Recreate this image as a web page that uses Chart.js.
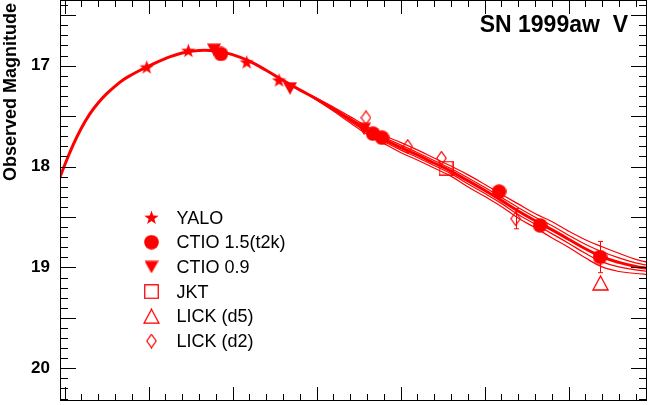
<!DOCTYPE html>
<html>
<head>
<meta charset="utf-8">
<script src="https://cdn.jsdelivr.net/npm/chart.js@4.4.1/dist/chart.umd.min.js"></script>
<style>
html, body { margin: 0; padding: 0; background: #fff; }
#wrap { width: 648px; height: 405px; }
</style>
</head>
<body>
<div id="wrap"><canvas id="lc" width="648" height="405"></canvas></div>
<script>
// light curve template (days from an arbitrary origin, V mag)
var curveDays = [-0.6, 0, 1, 2, 3, 4, 5, 6, 7, 8, 9, 10, 12, 14, 16, 18, 20, 22, 24, 26, 28, 30, 32, 34, 36, 38, 40, 42, 44, 46, 48, 50, 52, 54, 56, 58, 60, 62, 64, 66, 68, 69.5];
var curveMag = [18.12, 17.99, 17.79, 17.62, 17.48, 17.37, 17.28, 17.205, 17.14, 17.09, 17.045, 17.005, 16.93, 16.875, 16.85, 16.855, 16.89, 16.955, 17.045, 17.145, 17.24, 17.33, 17.43, 17.535, 17.64, 17.73, 17.81, 17.885, 17.965, 18.045, 18.14, 18.235, 18.335, 18.44, 18.535, 18.625, 18.72, 18.815, 18.895, 18.95, 18.99, 19.01];

// the thin template curves fanning out at late times
var bandDays = [28, 30, 32, 34, 36, 38, 40, 42, 44, 46, 48, 50, 52, 54, 56, 58, 60, 62, 64, 66, 68, 69.5];
var bandA = [17.24, 17.32, 17.41, 17.505, 17.60, 17.69, 17.76, 17.835, 17.915, 17.995, 18.08, 18.175, 18.275, 18.37, 18.465, 18.545, 18.64, 18.725, 18.795, 18.86, 18.92, 18.95];
var bandB = [17.24, 17.325, 17.42, 17.52, 17.62, 17.71, 17.785, 17.86, 17.94, 18.02, 18.11, 18.205, 18.305, 18.405, 18.50, 18.585, 18.68, 18.77, 18.845, 18.905, 18.955, 18.98];
var bandC = [17.24, 17.335, 17.44, 17.55, 17.66, 17.75, 17.835, 17.91, 17.99, 18.07, 18.17, 18.265, 18.365, 18.475, 18.57, 18.665, 18.76, 18.86, 18.945, 18.995, 19.025, 19.04];
var bandD = [17.24, 17.34, 17.45, 17.565, 17.68, 17.77, 17.86, 17.935, 18.015, 18.095, 18.20, 18.295, 18.395, 18.51, 18.605, 18.705, 18.80, 18.905, 18.995, 19.04, 19.06, 19.07];

// photometry
var yaloDay = [9.79, 14.74, 21.69, 25.54];
var yaloMag = [17.015, 16.851, 16.965, 17.144];
var ctio15Day = [18.63, 36.73, 37.80, 51.73, 56.61, 63.75];
var ctio15Mag = [16.884, 17.674, 17.714, 18.249, 18.583, 18.897];
var ctio15Err = [0, 0, 0, 0, 0, 0.155];
var ctio09Day = [17.80, 26.85, 35.65];
var ctio09Mag = [16.841, 17.223, 17.625];
var jktDay = [45.42];
var jktMag = [18.016];
var lickD5Day = [63.81];
var lickD5Mag = [19.154];
var lickD2Day = [35.89, 40.86, 44.88, 53.71];
var lickD2Mag = [17.516, 17.80, 17.917, 18.517];
var lickD2Err = [0, 0, 0, 0.10];

var yTickLabels = [17, 18, 19, 20];

var RED = '#ff0000';
var FONT = '"Liberation Sans", Helvetica, Arial, sans-serif';

function pts(xs, ys) {
  return xs.map(function (x, i) { return { x: x, y: ys[i] }; });
}

function marker(kind) {
  var c = document.createElement('canvas');
  var sz = { star: [15, 15], circle: [15, 15], down: [14, 13], square: [15, 15], up: [17, 16], diamond: [11, 15] }[kind];
  c.width = sz[0]; c.height = sz[1];
  var g = c.getContext('2d');
  g.fillStyle = RED; g.strokeStyle = RED; g.lineWidth = 1.3;
  g.beginPath();
  if (kind === 'star') {
    for (var i = 0; i < 10; i++) {
      var r = i % 2 === 0 ? 7.5 : 3.0;
      var a = -Math.PI / 2 + i * Math.PI / 5;
      var px = 7.5 + r * Math.cos(a), py = 8 + r * Math.sin(a);
      if (i === 0) g.moveTo(px, py); else g.lineTo(px, py);
    }
    g.closePath(); g.fill();
  } else if (kind === 'circle') {
    g.arc(7.5, 7.5, 7.3, 0, Math.PI * 2); g.fill();
  } else if (kind === 'down') {
    g.moveTo(0, 0.5); g.lineTo(14, 0.5); g.lineTo(7, 13); g.closePath(); g.fill();
  } else if (kind === 'square') {
    g.strokeRect(0.75, 0.75, 13.5, 13.5);
  } else if (kind === 'up') {
    g.moveTo(8.5, 1); g.lineTo(16, 15); g.lineTo(1, 15); g.closePath(); g.stroke();
  } else if (kind === 'diamond') {
    g.lineWidth = 1.2;
    g.moveTo(5.5, 0.8); g.lineTo(10.2, 7.5); g.lineTo(5.5, 14.2); g.lineTo(0.8, 7.5); g.closePath(); g.stroke();
  }
  return c;
}

function markerSet(label, xs, ys, kind) {
  return {
    label: label,
    data: pts(xs, ys),
    pointStyle: marker(kind),
    pointRadius: 7,
    borderColor: RED,
    backgroundColor: RED,
    order: 0
  };
}

function curveSet(xs, ys, w) {
  return {
    label: '',
    data: pts(xs, ys),
    showLine: true,
    pointRadius: 0,
    borderColor: RED,
    borderWidth: w,
    tension: 0.4,
    order: 1,
    isCurve: true
  };
}

var datasets = [
  markerSet('YALO', yaloDay, yaloMag, 'star'),
  markerSet('CTIO 1.5(t2k)', ctio15Day, ctio15Mag, 'circle'),
  markerSet('CTIO 0.9', ctio09Day, ctio09Mag, 'down'),
  markerSet('JKT', jktDay, jktMag, 'square'),
  markerSet('LICK (d5)', lickD5Day, lickD5Mag, 'up'),
  markerSet('LICK (d2)', lickD2Day, lickD2Mag, 'diamond'),
  curveSet(curveDays, curveMag, 3),
  curveSet(bandDays, bandA, 1.2),
  curveSet(bandDays, bandB, 1.2),
  curveSet(bandDays, bandC, 1.2),
  curveSet(bandDays, bandD, 1.2)
];

var errors = [
  { days: ctio15Day, mags: ctio15Mag, err: ctio15Err },
  { days: lickD2Day, mags: lickD2Mag, err: lickD2Err }
];

var framePlugin = {
  id: 'frame',
  beforeDatasetsDraw: function (chart) {
    var ctx = chart.ctx, xs = chart.scales.x, ys = chart.scales.y;
    ctx.save();
    ctx.strokeStyle = RED; ctx.lineWidth = 1;
    ctx.beginPath();
    errors.forEach(function (e) {
      e.days.forEach(function (d, i) {
        if (!e.err[i]) return;
        var px = Math.round(xs.getPixelForValue(d)) + 0.5;
        var y1 = ys.getPixelForValue(e.mags[i] - e.err[i]);
        var y2 = ys.getPixelForValue(e.mags[i] + e.err[i]);
        ctx.moveTo(px, y1); ctx.lineTo(px, y2);
        ctx.moveTo(px - 2.5, y1); ctx.lineTo(px + 2.5, y1);
        ctx.moveTo(px - 2.5, y2); ctx.lineTo(px + 2.5, y2);
      });
    });
    ctx.stroke();
    ctx.restore();
  },
  afterDraw: function (chart) {
    var ctx = chart.ctx, a = chart.chartArea, xs = chart.scales.x, ys = chart.scales.y;
    ctx.save();
    ctx.strokeStyle = '#000'; ctx.lineWidth = 1;
    ctx.strokeRect(a.left + 0.5, a.top + 0.5, a.right - a.left - 1, a.bottom - a.top - 1);
    ctx.beginPath();
    for (var k = 164; k <= 203; k++) {
      var py = Math.round(ys.getPixelForValue(k / 10)) + 0.5;
      var len = k % 5 === 0 ? 16 : 8;
      ctx.moveTo(a.left, py); ctx.lineTo(a.left + len, py);
      ctx.moveTo(a.right, py); ctx.lineTo(a.right - len, py);
    }
    for (var d = 0; d <= 68; d += 2) {
      var px = Math.round(xs.getPixelForValue(d)) + 0.5;
      var l2 = d % 10 === 0 ? 14 : 7;
      ctx.moveTo(px, a.bottom); ctx.lineTo(px, a.bottom - l2);
      ctx.moveTo(px, a.top); ctx.lineTo(px, a.top + l2);
    }
    ctx.stroke();

    // y axis title
    ctx.fillStyle = '#000';
    ctx.font = 'bold 18px ' + FONT;
    ctx.save();
    ctx.translate(15.5, 3);
    ctx.rotate(-Math.PI / 2);
    ctx.textAlign = 'right';
    ctx.textBaseline = 'alphabetic';
    ctx.fillText('Observed Magnitude', 0, 0);
    ctx.restore();

    // plot label
    ctx.font = 'bold 23px ' + FONT;
    ctx.textAlign = 'right';
    ctx.fillText('SN 1999aw  V', 628, 32);

    // legend
    ctx.font = '18px ' + FONT;
    ctx.textAlign = 'left';
    var row = 0;
    chart.data.datasets.forEach(function (ds) {
      if (ds.isCurve) return;
      var cy = 217.5 + row * 24.7;
      var img = ds.pointStyle;
      ctx.drawImage(img, 151.5 - img.width / 2, cy - img.height / 2);
      ctx.fillText(ds.label, 176.5, cy + 6);
      row++;
    });
    ctx.restore();
  }
};

function noPad(s) {
  s.paddingTop = 0; s.paddingBottom = 0; s.paddingLeft = 0; s.paddingRight = 0;
}

new Chart(document.getElementById('lc'), {
  type: 'scatter',
  data: { datasets: datasets },
  options: {
    responsive: false,
    animation: false,
    events: [],
    layout: { autoPadding: false, padding: { left: 0, right: 1, top: 0, bottom: 0 } },
    plugins: { legend: { display: false }, tooltip: { enabled: false } },
    scales: {
      x: {
        type: 'linear', min: -0.536, max: 69.345,
        grid: { display: false, drawTicks: false },
        border: { display: false },
        ticks: { display: false },
        afterFit: function (s) { s.height = 4; noPad(s); }
      },
      y: {
        type: 'linear', reverse: true, min: 16.349, max: 20.324,
        grid: { display: false, drawTicks: false },
        border: { display: false },
        ticks: {
          padding: 10, color: '#000',
          font: { family: FONT, size: 17, weight: 'bold' },
          callback: function (v) { return Number(v).toFixed(0); }
        },
        afterBuildTicks: function (s) { s.ticks = yTickLabels.map(function (v) { return { value: v }; }); },
        afterFit: function (s) { s.width = 60; noPad(s); }
      }
    }
  },
  plugins: [framePlugin]
});
</script>
</body>
</html>
